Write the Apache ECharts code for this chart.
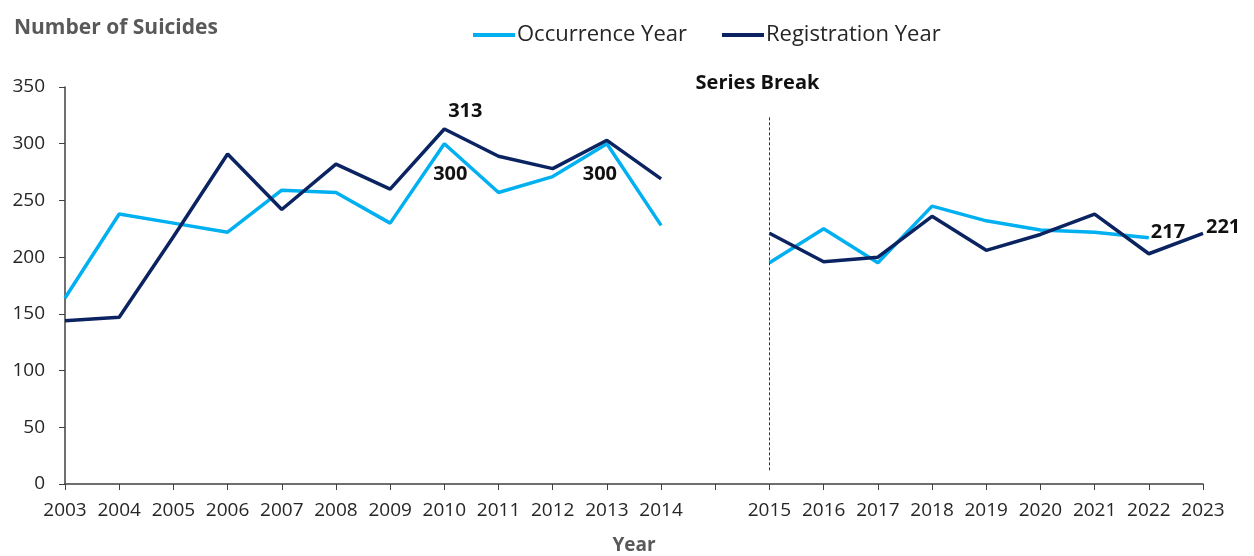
<!DOCTYPE html>
<html>
<head>
<meta charset="utf-8">
<script src="https://cdn.jsdelivr.net/npm/echarts@6/dist/echarts.min.js"></script>
<style>
  html, body { margin: 0; padding: 0; background: #fff; }
  #chart { width: 1254px; height: 556px; }
</style>
</head>
<body>
<div id="chart"></div>
<script>
// categories, with an empty slot for the series break
const years = ["2003", "2004", "2005", "2006", "2007", "2008", "2009", "2010", "2011", "2012", "2013", "2014",
  "", "2015", "2016", "2017", "2018", "2019", "2020", "2021", "2022", "2023"];

const occurrence = [164, 238, 230, 222, 259, 257, 230, 300, 257, 271, 300, 228,
  null, 195, 225, 195, 245, 232, 224, 222, 217, null];

const registration = [144, 147, 218, 291, 242, 282, 260, 313, 289, 278, 303, 269,
  null, 221, 196, 200, 236, 206, 220, 238, 203, 221];

const yTicks = [0, 50, 100, 150, 200, 250, 300, 350];

const FONT = "Open Sans";

// which points get a value label and how it sits
const occLabels = {
  "2010": { position: "bottom", distance: 21, offset: [6, 0] },
  "2013": { position: "bottom", distance: 21, offset: [-7, 0] },
  "2022": { position: "right", distance: 2, offset: [0, -6] }
};
const regLabels = {
  "2010": { position: "top", distance: 8, offset: [21, 0] },
  "2023": { position: "right", distance: 3, offset: [0, -6] }
};

function withLabels(values, labels) {
  return values.map((v, i) => {
    const l = labels[years[i]];
    if (!l || v == null) return v;
    return {
      value: v,
      label: {
        show: true,
        position: l.position,
        distance: l.distance,
        offset: l.offset,
        color: "#111",
        fontFamily: FONT,
        fontWeight: "bold",
        fontSize: 20
      }
    };
  });
}

const chart = echarts.init(document.getElementById("chart"));

const option = {
  animation: false,
  title: {
    text: "Number of Suicides",
    left: 14,
    top: 18,
    padding: 0,
    textStyle: { fontFamily: FONT, fontSize: 21, fontWeight: "bold", color: "#595959" }
  },
  legend: {
    top: 24,
    left: 473,
    padding: 0,
    icon: "rect",
    itemWidth: 42,
    itemHeight: 4,
    itemGap: 35,
    textStyle: { fontFamily: FONT, fontSize: 22, color: "#262626", padding: [0, 0, 0, -3] },
    data: ["Occurrence Year", "Registration Year"]
  },
  grid: { left: 65, right: 51, top: 87, bottom: 72, containLabel: false, outerBoundsMode: "none" },
  xAxis: {
    type: "category",
    data: years,
    boundaryGap: false,
    name: "Year",
    nameLocation: "middle",
    nameGap: 52,
    nameTextStyle: { fontFamily: FONT, fontSize: 19, fontWeight: "bold", color: "#595959" },
    axisLine: { lineStyle: { color: "#404040", width: 1.5 } },
    axisTick: { show: true, length: 6, alignWithLabel: true, lineStyle: { color: "#404040" } },
    axisLabel: { fontFamily: FONT, fontSize: 19, color: "#262626", margin: 17, interval: 0 },
    splitLine: { show: false }
  },
  yAxis: {
    type: "value",
    min: yTicks[0],
    max: yTicks[yTicks.length - 1],
    interval: 50,
    axisLine: { show: true, lineStyle: { color: "#404040", width: 1.5 } },
    axisTick: { show: true, length: 6, inside: false, lineStyle: { color: "#404040" } },
    axisLabel: { fontFamily: FONT, fontSize: 19, color: "#262626", margin: 20 },
    splitLine: { show: false }
  },
  series: [
    {
      name: "Occurrence Year",
      type: "line",
      data: withLabels(occurrence, occLabels),
      connectNulls: false,
      showSymbol: true,
      symbol: "circle",
      symbolSize: 0,
      itemStyle: { color: "#00B0F0" },
      lineStyle: { color: "#00B0F0", width: 3.5 },
      z: 3
    },
    {
      name: "Registration Year",
      type: "line",
      data: withLabels(registration, regLabels),
      connectNulls: false,
      showSymbol: true,
      symbol: "circle",
      symbolSize: 0,
      itemStyle: { color: "#0B2461" },
      lineStyle: { color: "#0B2461", width: 3.5 },
      z: 4,
      markLine: {
        silent: true,
        symbol: "none",
        lineStyle: { type: [3, 2], color: "#333", width: 1 },
        label: {
          show: true,
          position: "end",
          distance: 22,
          offset: [-12, 0],
          formatter: "Series Break",
          fontFamily: FONT,
          fontSize: 20,
          fontWeight: "bold",
          color: "#111"
        },
        data: [[{ coord: ["2015", 12] }, { coord: ["2015", 325] }]]
      }
    }
  ]
};

chart.setOption(option);
</script>
</body>
</html>
